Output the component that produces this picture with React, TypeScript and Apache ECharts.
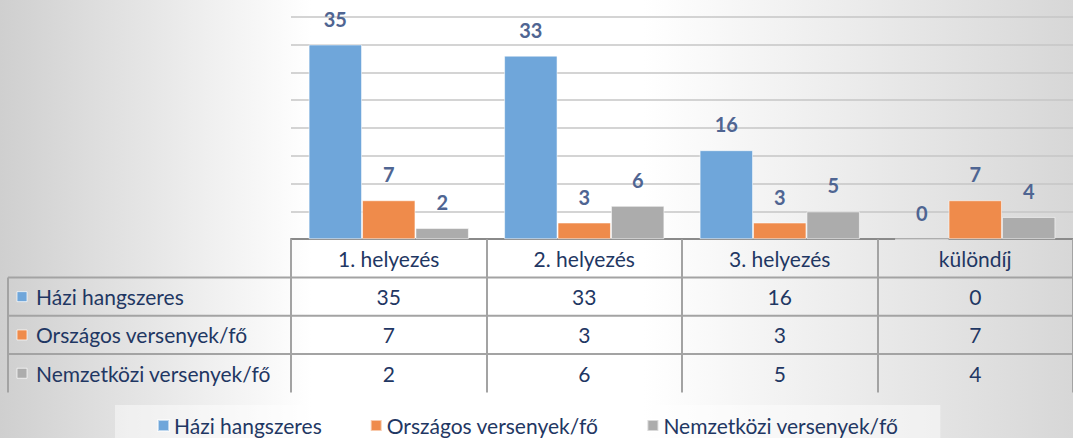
import React, { useEffect, useRef } from "react";
import * as echarts from "echarts";

const categories = ["1. helyezés", "2. helyezés", "3. helyezés", "különdíj"];
const seriesNames = ["Házi hangszeres", "Országos versenyek/fő", "Nemzetközi versenyek/fő"];
const haziValues = [35, 33, 16, 0];
const orszagosValues = [7, 3, 3, 7];
const nemzetkoziValues = [2, 6, 5, 4];
const yMin = 0;
const yMax = 40;
const yInterval = 5;

const seriesData = [haziValues, orszagosValues, nemzetkoziValues];
const colors = ["#6fa6da", "#ef8b4b", "#acacac"];

const FONT = "Lato, 'Noto Sans', sans-serif";
const NAVY = "#1f3763";
const LABEL = "#4f6592";
const GRID_LEFT = 291;
const GRID_TOP = 16.7;
const GRID_W = 794;
const GRID_H = 222.5;
const ROW_H = 38.3;
const TABLE_LEFT = 8;
const TABLE_LINE = "#a3a3a3";
const TXT = 21;

export default function App() {
  const ref = useRef<HTMLDivElement>(null);
  useEffect(() => {
    if (!ref.current) return;
    const chart = echarts.init(ref.current, null, { renderer: "svg" });
    const axisBottom = GRID_TOP + GRID_H;

    const rowAxes = seriesData.map((vals, k) => ({
      type: "category",
      gridIndex: 0,
      position: "bottom",
      offset: ROW_H * (k + 1),
      data: categories,
      axisLine: { show: false },
      axisTick: { show: false },
      axisLabel: {
        margin: ROW_H / 2,
        verticalAlign: "middle",
        fontSize: TXT,
        fontFamily: FONT,
        color: NAVY,
        formatter: (_v: string, i: number) => String(vals[i]),
      },
    }));

    const graphics: any[] = [];
    for (let r = 1; r <= seriesNames.length; r++) {
      graphics.push({
        type: "line",
        shape: { x1: TABLE_LEFT, y1: axisBottom + ROW_H * r, x2: 1073, y2: axisBottom + ROW_H * r },
        style: { stroke: TABLE_LINE, lineWidth: 2 },
        silent: true,
      });
    }
    graphics.push({
      type: "line",
      shape: { x1: TABLE_LEFT, y1: axisBottom + ROW_H, x2: TABLE_LEFT, y2: axisBottom + ROW_H * 4 },
      style: { stroke: TABLE_LINE, lineWidth: 2 },
      silent: true,
    });
    seriesNames.forEach((name, k) => {
      const cy = axisBottom + ROW_H * (k + 1.5);
      graphics.push({
        type: "rect",
        shape: { x: 17, y: cy - 5, width: 10, height: 10 },
        style: { fill: colors[k], stroke: "rgba(255,255,255,0.7)", lineWidth: 1 },
        silent: true,
      });
      graphics.push({
        type: "text",
        x: 36,
        y: cy,
        style: {
          text: name,
          fontSize: TXT,
          fontFamily: FONT,
          fill: NAVY,
          verticalAlign: "middle",
          align: "left",
        },
        silent: true,
      });
    });

    chart.setOption({
      animation: false,
      grid: { left: GRID_LEFT, top: GRID_TOP, width: GRID_W, height: GRID_H },
      xAxis: [
        {
          type: "category",
          data: categories,
          axisLine: { show: true, lineStyle: { color: "#8a8a8a", width: 2 } },
          axisTick: {
            show: true,
            length: ROW_H * 4,
            lineStyle: { color: TABLE_LINE, width: 2 },
          },
          axisLabel: {
            margin: ROW_H / 2,
            verticalAlign: "middle",
            fontSize: TXT,
            fontFamily: FONT,
            color: NAVY,
          },
        },
        ...rowAxes,
      ],
      yAxis: {
        type: "value",
        min: yMin,
        max: yMax,
        interval: yInterval,
        axisLine: { show: false },
        axisTick: { show: false },
        axisLabel: { show: false },
        splitLine: { lineStyle: { color: "#c6c6c6", width: 1.5 } },
      },
      legend: {
        left: 115,
        top: 405,
        width: 845,
        padding: [10, 42, 12, 42],
        backgroundColor: "rgba(255,255,255,0.45)",
        icon: "rect",
        itemWidth: 11,
        itemHeight: 11,
        itemGap: 48,
        textStyle: { fontSize: TXT, fontFamily: FONT, color: NAVY },
        data: seriesNames,
      },
      graphic: graphics,
      series: seriesNames.map((name, k) => ({
        type: "bar",
        name,
        data: seriesData[k],
        barGap: "0%",
        barCategoryGap: "18%",
        itemStyle: {
          color: colors[k],
          borderColor: "rgba(255,255,255,0.55)",
          borderWidth: 1,
        },
        label: {
          show: true,
          position: "top",
          distance: 16,
          fontSize: 20,
          fontWeight: "bold",
          fontFamily: FONT,
          color: LABEL,
        },
      })),
    });
    return () => chart.dispose();
  }, []);

  return (
    <div
      ref={ref}
      style={{
        position: "fixed",
        left: 0,
        top: 0,
        width: 1073,
        height: 438,
        background:
          "linear-gradient(90deg, #cfcfcf 0%, #ffffff 29%, #ffffff 60%, #d7d7d7 100%)",
      }}
    />
  );
}
